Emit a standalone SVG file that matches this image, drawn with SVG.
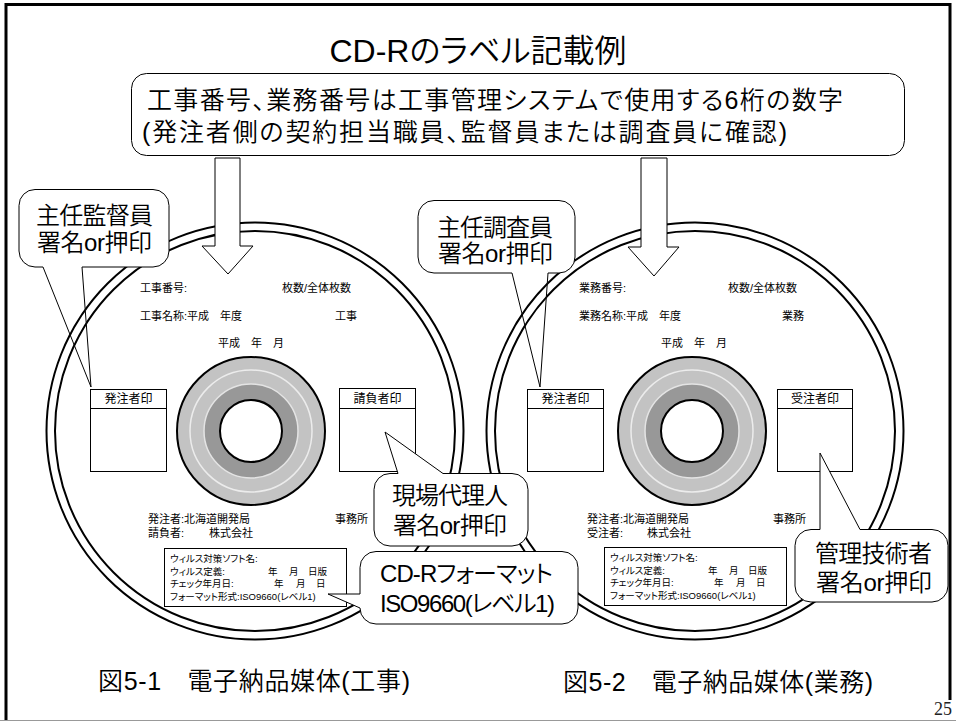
<svg xmlns="http://www.w3.org/2000/svg" xmlns:xlink="http://www.w3.org/1999/xlink" width="956" height="722" viewBox="0 0 956 722">
<style>
  text { font-family: "Liberation Sans", "Noto Sans CJK JP", sans-serif; fill: #000; font-feature-settings: "palt" 1; }
  .title, .big, .co, .cap { font-weight: 350; }
  .title { font-size: 32px; }
  .big { font-size: 25px; }
  .co { font-size: 24px; }
  .cap { font-size: 25px; }
  .sm { font-size: 11px; }
  .seal { font-size: 12px; }
  .vir { font-size: 9.5px; }
  .pg { font-family: "Liberation Serif", serif; font-size: 18px; fill: #222; }
  .bubble { fill: #fff; stroke: #000; stroke-width: 1; }
  .ringline { fill: none; stroke: #000; stroke-width: 2; }
  .box { fill: #fff; stroke: #000; stroke-width: 1; }
  .arrow { fill: #fff; stroke: #000; stroke-width: 1; }
</style>
<defs>
  <!-- double outer edge of a disc -->
  <g id="ring">
    <circle r="208.5" class="ringline"/>
    <circle r="200" class="ringline"/>
  </g>
  <!-- centre hub of a disc -->
  <g id="hub">
    <circle r="74" fill="#c3c3c3" stroke="#000" stroke-width="2"/>
    <circle r="61" fill="none" stroke="#ececec" stroke-width="1.5"/>
    <circle r="47" fill="#989898" stroke="#e4e4e4" stroke-width="1.5"/>
    <circle r="31" fill="#fff" stroke="#000" stroke-width="2"/>
  </g>
  <clipPath id="tail-a"><polygon points="43,268 82,268 91,387"/></clipPath>
  <clipPath id="tail-b"><polygon points="512,274 548,274 540,387"/></clipPath>
</defs>

<rect width="956" height="722" fill="#fff"/>

<!-- slide frame -->
<g id="frame">
  <path d="M6,721 V4.5 H950 V700" fill="none" stroke="#000" stroke-width="3"/>
  <line x1="0" y1="720.5" x2="956" y2="720.5" stroke="#999" stroke-width="1"/>
</g>

<text class="title" x="478" y="62" text-anchor="middle">CD-Rのラベル記載例</text>

<!-- disc 1: construction -->
<g id="disc-kouji">
  <use xlink:href="#ring" x="255" y="431"/>
  <use xlink:href="#hub" x="251" y="431"/>
  <text class="sm" x="140" y="292">工事番号:</text>
  <text class="sm" x="282" y="292">枚数/全体枚数</text>
  <text class="sm" x="140" y="320">工事名称:平成　年度</text>
  <text class="sm" x="335" y="320">工事</text>
  <text class="sm" x="218" y="347">平成　年　月</text>
  <rect class="box" x="90.5" y="389.5" width="76" height="82"/>
  <line x1="90.5" y1="408.5" x2="166.5" y2="408.5" stroke="#000"/>
  <text class="seal" x="128.5" y="402.5" text-anchor="middle">発注者印</text>
  <rect class="box" x="339.5" y="388.5" width="76" height="83"/>
  <line x1="339.5" y1="408.5" x2="415.5" y2="408.5" stroke="#000"/>
  <text class="seal" x="377.5" y="402.5" text-anchor="middle">請負者印</text>
  <text class="sm" x="148" y="523">発注者:北海道開発局</text>
  <text class="sm" x="335" y="523">事務所</text>
  <text class="sm" x="148" y="537">請負者:</text>
  <text class="sm" x="209" y="537">株式会社</text>
  <rect class="box" x="164.5" y="548.5" width="182" height="58"/>
  <text class="vir" x="170" y="561.5">ウィルス対策ソフト名:</text>
  <text class="vir" x="170" y="574.5">ウィルス定義:<tspan x="268">年</tspan><tspan x="289">月</tspan><tspan x="308">日版</tspan></text>
  <text class="vir" x="170" y="587">チェック年月日:<tspan x="274">年</tspan><tspan x="296">月</tspan><tspan x="316">日</tspan></text>
  <text class="vir" x="170" y="599.5">フォーマット形式:ISO9660(レベル1)</text>
</g>

<!-- disc 2: survey / design work -->
<g id="disc-gyoumu">
  <use xlink:href="#ring" x="695" y="431"/>
  <use xlink:href="#hub" x="692" y="431"/>
  <text class="sm" x="579" y="292">業務番号:</text>
  <text class="sm" x="728" y="292">枚数/全体枚数</text>
  <text class="sm" x="579" y="320">業務名称:平成　年度</text>
  <text class="sm" x="782" y="320">業務</text>
  <text class="sm" x="661" y="347">平成　年　月</text>
  <rect class="box" x="527.5" y="389.5" width="76" height="82"/>
  <line x1="527.5" y1="408.5" x2="603.5" y2="408.5" stroke="#000"/>
  <text class="seal" x="565.5" y="402.5" text-anchor="middle">発注者印</text>
  <rect class="box" x="777.5" y="389.5" width="75" height="82"/>
  <line x1="777.5" y1="408.5" x2="852.5" y2="408.5" stroke="#000"/>
  <text class="seal" x="815" y="402.5" text-anchor="middle">受注者印</text>
  <text class="sm" x="587" y="523">発注者:北海道開発局</text>
  <text class="sm" x="773" y="523">事務所</text>
  <text class="sm" x="587" y="537">受注者:</text>
  <text class="sm" x="647" y="537">株式会社</text>
  <rect class="box" x="604.5" y="547.5" width="182" height="58"/>
  <text class="vir" x="610" y="560.5">ウィルス対策ソフト名:</text>
  <text class="vir" x="610" y="573.5">ウィルス定義:<tspan x="708">年</tspan><tspan x="729">月</tspan><tspan x="748">日版</tspan></text>
  <text class="vir" x="610" y="586">チェック年月日:<tspan x="714">年</tspan><tspan x="736">月</tspan><tspan x="756">日</tspan></text>
  <text class="vir" x="610" y="598.5">フォーマット形式:ISO9660(レベル1)</text>
</g>

<!-- connectors: block arrows from the note down to the number fields -->
<g id="connectors">
  <polygon class="arrow" points="215,158 240,158 240,246 253,246 228,274 202,246 215,246"/>
  <polygon class="arrow" points="641,158 667,158 667,247 679,247 654,276 628,247 641,247"/>
</g>

<!-- note about the work number -->
<g id="note-number">
  <rect class="bubble" x="131.5" y="73.5" width="773" height="82" rx="15"/>
  <text class="big"><tspan x="147" y="109" textLength="696" lengthAdjust="spacing">工事番号、業務番号は工事管理システムで使用する6桁の数字</tspan><tspan x="142" y="141" textLength="645" lengthAdjust="spacing">(発注者側の契約担当職員、監督員または調査員に確認)</tspan></text>
</g>

<g id="callout-kantoku">
  <path class="bubble" d="M35,189.5 H153 A16,16 0 0 1 169,205.5 V251 A16,16 0 0 1 153,267 H82 L91,387 L43,267 H35 A16,16 0 0 1 19,251 V205.5 A16,16 0 0 1 35,189.5 Z"/>
  <g clip-path="url(#tail-a)"><use xlink:href="#ring" x="255" y="431"/></g>
  <text class="co"><tspan x="36" y="224" textLength="117" lengthAdjust="spacing">主任監督員</tspan><tspan x="37" y="251" textLength="115" lengthAdjust="spacing">署名or押印</tspan></text>
</g>

<g id="callout-chousa">
  <path class="bubble" d="M434,200.5 H559 A16,16 0 0 1 575,216.5 V257 A16,16 0 0 1 559,273 H548 L540,387 L512,273 H434 A16,16 0 0 1 418,257 V216.5 A16,16 0 0 1 434,200.5 Z"/>
  <g clip-path="url(#tail-b)"><use xlink:href="#ring" x="695" y="431"/></g>
  <text class="co"><tspan x="437" y="236" textLength="116" lengthAdjust="spacing">主任調査員</tspan><tspan x="438" y="262" textLength="115" lengthAdjust="spacing">署名or押印</tspan></text>
</g>

<g id="callout-genba">
  <path class="bubble" d="M390,473.5 H398 L385,432 L443,473.5 H512 A16,16 0 0 1 528,489.5 V530 A16,16 0 0 1 512,546 H390 A16,16 0 0 1 374,530 V489.5 A16,16 0 0 1 390,473.5 Z"/>
  <text class="co"><tspan x="392" y="504" textLength="116" lengthAdjust="spacing">現場代理人</tspan><tspan x="393" y="534" textLength="114" lengthAdjust="spacing">署名or押印</tspan></text>
</g>

<g id="callout-format">
  <path class="bubble" d="M376,551.5 H562 A16,16 0 0 1 578,567.5 V608 A16,16 0 0 1 562,624 H376 A16,16 0 0 1 360,608 L328,594 L360,594 V567.5 A16,16 0 0 1 376,551.5 Z"/>
  <text class="co"><tspan x="380" y="582" textLength="173" lengthAdjust="spacing">CD-Rフォーマット</tspan><tspan x="380" y="612" textLength="175" lengthAdjust="spacing">ISO9660(レベル1)</tspan></text>
</g>

<g id="callout-kanri">
  <path class="bubble" d="M811,529.5 H820 V453 L860,529.5 H932 A16,16 0 0 1 948,545.5 V586 A16,16 0 0 1 932,602 H811 A16,16 0 0 1 795,586 V545.5 A16,16 0 0 1 811,529.5 Z"/>
  <text class="co"><tspan x="815" y="562" textLength="117" lengthAdjust="spacing">管理技術者</tspan><tspan x="816" y="591" textLength="116" lengthAdjust="spacing">署名or押印</tspan></text>
</g>

<g id="captions">
  <text class="cap" x="98" y="690" textLength="312" lengthAdjust="spacing">図5-1　電子納品媒体(工事)</text>
  <text class="cap" x="563" y="691" textLength="310" lengthAdjust="spacing">図5-2　電子納品媒体(業務)</text>
  <text class="pg" x="934" y="715">25</text>
</g>
</svg>
